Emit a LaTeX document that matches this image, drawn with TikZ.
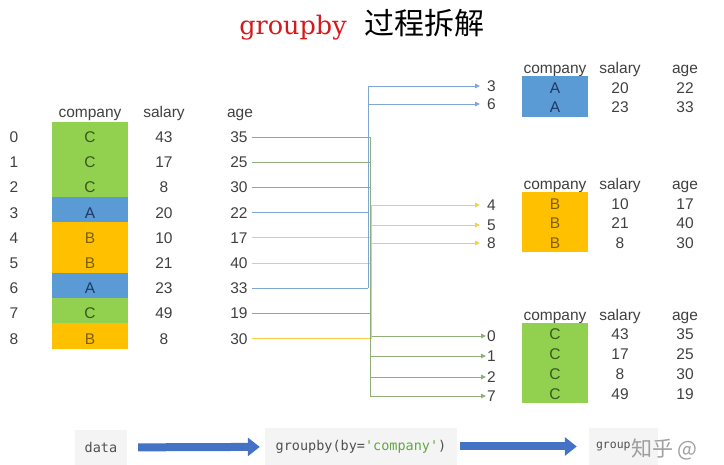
\documentclass[tikz,border=0pt]{standalone}
\usepackage{fontspec}
\setmainfont{Liberation Sans}
\setmonofont{DejaVu Sans Mono}
\newfontfamily\cjk{Noto Sans CJK SC}
\newfontfamily\titleserif{DejaVu Serif}
\usepackage{tikz}
\usepackage{xcolor}
\usetikzlibrary{arrows.meta}

\definecolor{grnfill}{HTML}{92D050}
\definecolor{grntext}{HTML}{38571F}
\definecolor{blufill}{HTML}{5B9BD5}
\definecolor{blutext}{HTML}{1F3864}
\definecolor{orgfill}{HTML}{FFC000}
\definecolor{orgtext}{HTML}{7F5F00}
\definecolor{grnline}{HTML}{8FAE78}
\definecolor{bluline}{HTML}{7EA6D4}
\definecolor{orgline}{HTML}{F5CF48}
\definecolor{bigblue}{HTML}{4472C4}
\definecolor{txtgray}{HTML}{404040}
\definecolor{boxgray}{HTML}{F4F4F4}
\definecolor{codegray}{HTML}{505050}
\definecolor{codegreen}{HTML}{5FA843}
\definecolor{titlered}{HTML}{D7191C}

\begin{document}
\begin{tikzpicture}[x=1pt,y=-1pt,>={Triangle[length=5pt,width=4.5pt]},
  txt/.style={text=txtgray,font=\fontsize{15.5}{18}\selectfont,inner sep=1pt,text height=11pt,text depth=0pt},
  cellL/.style={txt,minimum width=75pt,minimum height=25.2pt,inner sep=0pt,text height=16pt},
  cellR/.style={txt,minimum width=65pt,minimum height=19.6pt,inner sep=0pt,text height=14pt},
  grpA/.style={fill=blufill,draw=blufill,line width=0.4pt,text=blutext},
  grpB/.style={fill=orgfill,draw=orgfill,line width=0.4pt,text=orgtext},
  grpC/.style={fill=grnfill,draw=grnfill,line width=0.4pt,text=grntext},
  lnA/.style={bluline,line width=0.9pt},
  lnB/.style={orgline,line width=0.9pt},
  lnC/.style={grnline,line width=0.9pt},
  arrA/.style={lnA,->,shorten >=6pt},
  arrB/.style={lnB,->,shorten >=6pt},
  arrC/.style={lnC,->},
  codebox/.style={fill=boxgray,text=codegray,font=\ttfamily\fontsize{13.5}{16}\selectfont,inner sep=0pt},
  bigarr/.style={bigblue,line width=8pt,-{Triangle[length=12pt,width=18pt]}}]
\useasboundingbox (0,0) rectangle (724,465);

% title
\node (title) at (362,25) {{\titleserif\fontsize{25.5}{28}\selectfont\color{titlered}groupby}\hspace{18pt}{\cjk\fontsize{30}{32}\selectfont 过程拆解}};

% original frame
\node[txt] (hcom) at (90,112) {company};
\node[txt] (hsal) at (164,112) {salary};
\node[txt] (hage) at (240,112) {age};
\coordinate (trkA) at (368,0);
\coordinate (trkB) at (371.5,0);
\coordinate (trkC) at (370,0);
\foreach \i/\g/\s/\a in {0/C/43/35,1/C/17/25,2/C/8/30,3/A/20/22,4/B/10/17,5/B/21/40,6/A/23/33,7/C/49/19,8/B/8/30}{
  \node[txt] (idx\i) at (14,{137+25.2*\i}) {\i};
  \node[cellL,grp\g] (com\i) at (90,{134.5+25.2*\i}) {\g};
  \node[txt] (sal\i) at (164,{137+25.2*\i}) {\s};
  \node[txt] (age\i) at (239,{137+25.2*\i}) {\a};
  \coordinate (in\i) at (trk\g |- age\i);
  \draw[ln\g] ([xshift=3pt]age\i.east) -- (in\i);
}

% split into groups
\foreach \k/\y/\g in {3/86/A,6/104/A,4/205/B,5/225/B,8/243/B,0/336/C,1/356/C,2/377/C,7/396/C}{
  \node[txt,anchor=west] (out\k) at (486,\y) {\k};
  \coordinate (br\k) at (trk\g |- out\k);
  \draw[arr\g] (br\k) -- (out\k.west);
}
\draw[lnA] (br3) -- (in6);
\draw[lnC] (in0) -- (br7);
\draw[lnB] (br4) -- (in8);

% group A
\node[txt] (hcomA) at (555,68) {company};
\node[txt] (hsalA) at (620,68) {salary};
\node[txt] (hageA) at (685,68) {age};
\foreach \s/\a [count=\n from 0] in {20/22,23/33}{
  \node[cellR,grpA] (comA\n) at (555,{86.5+19.5*\n}) {A};
  \node[txt] (salA\n) at (620,{88+19.5*\n}) {\s};
  \node[txt] (ageA\n) at (685,{88+19.5*\n}) {\a};
}

% group B
\node[txt] (hcomB) at (555,184) {company};
\node[txt] (hsalB) at (620,184) {salary};
\node[txt] (hageB) at (685,184) {age};
\foreach \s/\a [count=\n from 0] in {10/17,21/40,8/30}{
  \node[cellR,grpB] (comB\n) at (555,{202.5+19.5*\n}) {B};
  \node[txt] (salB\n) at (620,{204+19.5*\n}) {\s};
  \node[txt] (ageB\n) at (685,{204+19.5*\n}) {\a};
}

% group C
\node[txt] (hcomC) at (555,315) {company};
\node[txt] (hsalC) at (620,315) {salary};
\node[txt] (hageC) at (685,315) {age};
\foreach \s/\a [count=\n from 0] in {43/35,17/25,8/30,49/19}{
  \node[cellR,grpC] (comC\n) at (555,{333+19.7*\n}) {C};
  \node[txt] (salC\n) at (620,{334.5+19.7*\n}) {\s};
  \node[txt] (ageC\n) at (685,{334.5+19.7*\n}) {\a};
}

% bottom flow
\node[codebox,minimum width=52pt,minimum height=35pt] (data) at (101,447.5) {data};
\node[codebox,minimum width=192pt,minimum height=37pt] (gb) at (361,446.5) {groupby(by={\color{codegreen}'company'})};
\node[codebox,minimum height=37pt,text width=55pt,align=left,inner xsep=7pt,font=\ttfamily\fontsize{11.5}{14}\selectfont] (grp) at (623.5,446.5) {\raisebox{3pt}{group}};
\draw[bigarr,shorten <=11pt,shorten >=5pt] (data) -- (gb);
\draw[bigarr,shorten <=3pt,shorten >=12pt] (gb) -- (grp);
\node[anchor=west,text=gray,opacity=0.75,inner sep=0pt] (wmark) at (631,449) {\cjk\fontsize{21}{24}\selectfont 知乎 @};
\end{tikzpicture}
\end{document}
